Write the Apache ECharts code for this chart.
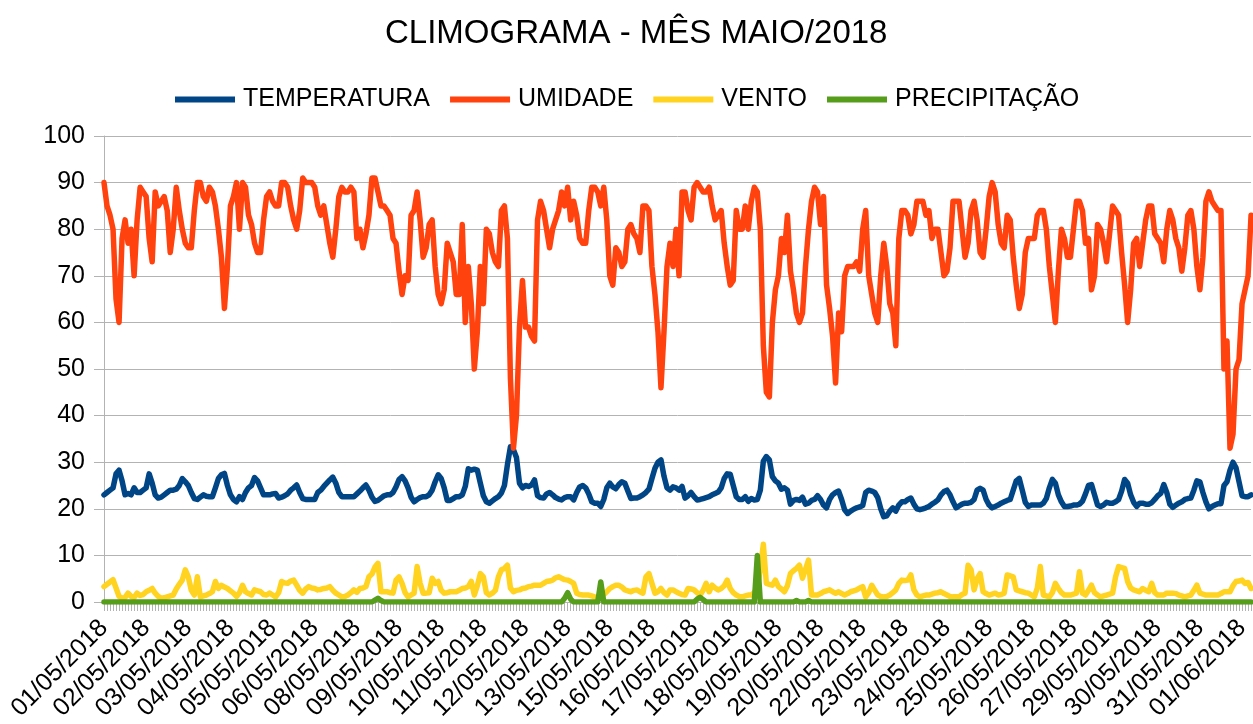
<!DOCTYPE html>
<html>
<head>
<meta charset="utf-8">
<title>Climograma</title>
<script src="https://cdn.jsdelivr.net/npm/echarts/dist/echarts.min.js"></script>
<style>
  html, body { margin: 0; padding: 0; background: #ffffff; }
  #chart { width: 1253px; height: 724px; }
</style>
</head>
<body>
<div id="chart"></div>
<script>
// leituras a cada 2 horas, a partir de 01/05/2018 00:00
var temperatura = [
  23, 23.5, 24, 24.5, 27.5, 28.3, 26, 23, 23.3, 23,
  24.5, 23.5, 23.5, 24, 24.5, 27.5, 25.5, 23, 22.3, 22.5,
  23, 23.5, 24, 24, 24.2, 25, 26.5, 25.8, 25, 23.5,
  22.2, 22, 22.5, 23, 22.7, 22.6, 22.6, 24.5, 26.5, 27.3,
  27.6, 25, 23, 22, 21.5, 22.6, 22, 23.5, 24.5, 25,
  26.7, 26, 24.5, 23, 23, 23, 23.2, 23.3, 22.3, 22.5,
  22.8, 23.2, 24, 24.5, 25.1, 23.5, 22.2, 22, 22, 22,
  22, 23.5, 24, 24.8, 25.5, 26.2, 26.8, 25.5, 23.5, 22.6,
  22.6, 22.6, 22.6, 22.6, 23.2, 23.8, 24.5, 25.1, 24, 22.5,
  21.6, 21.8, 22.3, 22.8, 23, 23, 23.5, 24.7, 26.3, 26.9,
  26, 24.5, 22.5, 21.5, 22, 22.4, 22.6, 22.6, 23, 24,
  25.8, 27.3, 26.5, 24.5, 21.8, 21.8, 22.2, 22.6, 22.6, 23,
  24.8, 28.6, 28.3, 28.5, 28.3, 25.5, 22.8, 21.5, 21.2, 21.7,
  22.2, 22.6, 23.4, 25, 29.5, 33.3, 32.7, 31, 25.5, 24.5,
  25, 24.8, 25.1, 26.2, 22.8, 22.4, 22.3, 23.2, 23.5, 23,
  22.4, 22.1, 21.9, 22.4, 22.6, 22.6, 21.9, 23.5, 24.7, 25,
  24.5, 23.2, 21.5, 21.2, 21.2, 20.5, 22, 24.5, 25.5, 24.7,
  24.3, 25.2, 25.8, 25.5, 23.8, 22.2, 22.3, 22.3, 22.6, 23,
  23.5, 24.2, 26.5, 28.7, 30, 30.5, 27, 24.5, 24, 24.7,
  24.5, 24, 24.8, 22.3, 22.8, 23.5, 22.6, 21.9, 22, 22.2,
  22.4, 22.6, 23, 23.3, 23.6, 24.5, 26.5, 27.5, 27.4, 25,
  22.6, 22, 22, 22.6, 21.6, 22.2, 21.9, 22, 24, 30.2,
  31.2, 30.5, 26.9, 26, 25.5, 24.2, 24.5, 24, 21, 21.8,
  22, 21.8, 22.5, 21, 21.2, 21.8, 22, 22.8, 22, 20.8,
  20.2, 22, 23, 23.5, 23.8, 22, 19.8, 19, 19.5, 19.9,
  20.2, 20.4, 20.7, 23.5, 24, 23.8, 23.5, 22.4, 20, 18.3,
  18.5, 19.5, 20.2, 19.5, 20.8, 21.5, 21.5, 22, 22.3, 21,
  20, 19.8, 20, 20.2, 20.5, 21, 21.4, 21.9, 23, 23.7,
  24, 23, 21.5, 20.2, 20.6, 21, 21.2, 21.2, 21.4, 22,
  24, 24.4, 24, 22, 20.8, 20.2, 20.5, 20.8, 21.2, 21.5,
  21.8, 22, 24, 26, 26.5, 24, 21.4, 20.5, 20.8, 20.8,
  20.8, 20.8, 21.2, 22.2, 24.5, 26.3, 25.5, 23, 21.5, 20.5,
  20.5, 20.6, 20.8, 20.8, 21, 21.6, 23.2, 25, 25.2, 23,
  20.8, 20.5, 20.8, 21.4, 21.2, 21.2, 21.5, 22, 23.8, 26.3,
  25.5, 23, 21.4, 20.5, 21.2, 21.2, 21, 21, 21.3, 22,
  22.8, 23.3, 25.2, 23.5, 21, 20.3, 20.8, 21.2, 21.5, 22,
  22.2, 22.3, 24, 26, 25.8, 23.5, 21.5, 20, 20.5, 20.8,
  21.1, 21.1, 25, 25.8, 28.3, 30, 28.8, 25.8, 22.8, 22.6,
  22.6, 23
];

var umidade = [
  90, 85, 83, 80, 65, 60, 78, 82, 77, 80,
  70, 82, 89, 88, 87, 78, 73, 88, 85, 86,
  87, 84, 75, 80, 89, 84, 80, 77, 76, 76,
  84, 90, 90, 87, 86, 89, 88, 85, 80, 74,
  63, 72, 85, 87, 90, 80, 90, 89, 83, 81,
  77, 75, 75, 82, 87, 88, 86, 85, 85, 90,
  90, 89, 85, 82, 80, 84, 91, 90, 90, 90,
  89, 85, 83, 85, 81, 77, 74, 80, 87, 89,
  88, 88, 89, 88, 78, 80, 76, 79, 83, 91,
  91, 88, 85, 85, 84, 83, 78, 77, 71, 66,
  70, 69, 83, 84, 88, 82, 74, 76, 81, 82,
  72, 66, 64, 67, 77, 75, 73, 66, 66, 81,
  60, 72, 64, 50, 58, 72, 64, 80, 79, 75,
  73, 72, 84, 85, 78, 48, 33, 40, 59, 69,
  59, 59, 57, 56, 82, 86, 84, 80, 76, 80,
  82, 84, 88, 85, 89, 82, 86, 83, 78, 77,
  77, 84, 89, 89, 88, 85, 89, 82, 70, 68,
  76, 75, 72, 73, 80, 81, 79, 78, 75, 85,
  85, 84, 72, 66, 58, 46, 58, 72, 77, 72,
  80, 70, 88, 88, 84, 82, 89, 90, 89, 88,
  88, 89, 85, 82, 83, 84, 77, 72, 68, 69,
  84, 80, 80, 85, 80, 86, 89, 88, 80, 55,
  45, 44, 60, 67, 70, 78, 75, 83, 71, 67,
  62, 60, 62, 72, 80, 86, 89, 88, 81, 87,
  68, 63, 57, 47, 62, 58, 70, 72, 72, 72,
  73, 71, 80, 84, 70, 66, 62, 60, 70, 77,
  72, 64, 62, 55, 78, 84, 84, 83, 79, 81,
  86, 86, 86, 83, 84, 78, 80, 80, 75, 70,
  71, 76, 86, 86, 86, 80, 74, 77, 84, 86,
  82, 75, 74, 80, 87, 90, 88, 81, 77, 76,
  83, 82, 74, 68, 63, 66, 75, 78, 78, 78,
  83, 84, 84, 80, 72, 66, 60, 71, 80, 78,
  74, 74, 80, 86, 86, 84, 77, 78, 67, 70,
  81, 80, 77, 73, 79, 85, 84, 83, 75, 68,
  60, 67, 77, 78, 72, 77, 82, 85, 85, 79,
  78, 77, 73, 80, 84, 82, 78, 76, 71, 76,
  83, 84, 80, 72, 67, 74, 86, 88, 86, 85,
  84, 84, 50, 56, 33, 36, 50, 52, 64, 67,
  70, 83
];

var vento = [
  3.3, 3.8, 4.3, 4.8, 3.0, 1.2, 0.8, 1.0, 1.9, 1.2,
  1.0, 1.9, 1.4, 1.6, 2.2, 2.5, 2.9, 1.9, 1.2, 0.8,
  0.9, 1.1, 1.3, 1.5, 2.8, 3.8, 4.7, 6.9, 5.4, 2.5,
  1.5, 5.4, 1.1, 1.3, 1.5, 1.8, 2.2, 4.4, 2.9, 3.6,
  3.2, 2.9, 2.4, 1.9, 1.2, 2.0, 3.6, 2.2, 1.8, 1.5,
  2.6, 2.4, 2.2, 1.6, 1.5, 1.9, 1.5, 1.1, 2.0, 4.4,
  4.1, 4.0, 4.5, 4.7, 3.6, 2.5, 1.9, 2.8, 3.3, 3.0,
  2.9, 2.6, 2.7, 2.9, 3.0, 3.3, 2.5, 1.9, 1.5, 1.1,
  1.2, 1.5, 2.0, 2.6, 2.1, 2.9, 3.0, 3.3, 5.4, 6.0,
  7.5, 8.3, 2.2, 2.2, 2.2, 2.0, 1.9, 4.7, 5.4, 4.0,
  2.0, 1.1, 1.5, 1.9, 7.6, 4.0, 1.9, 1.9, 2.0, 5.1,
  4.0, 4.4, 2.5, 1.9, 2.0, 2.2, 2.2, 2.2, 2.5, 2.9,
  3.0, 3.3, 4.4, 1.5, 3.5, 6.1, 5.4, 2.0, 1.5, 1.9,
  2.5, 5.4, 6.9, 7.2, 7.9, 3.0, 2.2, 2.5, 2.6, 2.9,
  3.0, 3.3, 3.4, 3.6, 3.6, 3.6, 4.0, 4.4, 4.5, 4.7,
  5.2, 5.4, 5.1, 4.8, 4.7, 4.4, 4.0, 1.9, 1.6, 1.5,
  1.5, 1.5, 1.3, 1.1, 1.0, 1.1, 1.6, 2.2, 2.9, 3.3,
  3.6, 3.6, 3.2, 2.6, 2.4, 2.2, 2.5, 2.6, 2.2, 1.9,
  5.4, 6.1, 4.0, 1.9, 2.2, 2.9, 2.0, 1.5, 2.6, 2.6,
  2.2, 1.9, 1.6, 1.5, 2.9, 2.8, 2.6, 2.0, 1.5, 2.5,
  4.0, 2.2, 3.6, 3.0, 2.6, 2.9, 3.5, 4.7, 2.9, 2.0,
  1.5, 1.2, 1.1, 1.3, 1.5, 1.5, 2.0, 3.3, 6.9, 12.4,
  4.0, 3.8, 3.6, 4.7, 3.3, 2.8, 2.2, 3.5, 6.1, 6.7,
  7.2, 7.9, 5.1, 7.0, 9.0, 1.5, 1.5, 1.5, 1.8, 2.2,
  2.4, 2.6, 2.2, 1.9, 2.2, 1.8, 1.5, 1.8, 2.2, 2.4,
  2.6, 3.0, 3.3, 1.1, 2.0, 3.6, 2.5, 1.5, 1.2, 1.1,
  1.2, 1.5, 2.0, 2.6, 4.0, 4.7, 4.6, 4.7, 5.8, 2.6,
  1.5, 1.1, 1.3, 1.5, 1.5, 1.7, 1.9, 2.0, 2.2, 1.8,
  1.5, 1.2, 1.1, 1.1, 1.1, 1.6, 1.9, 7.9, 6.9, 2.6,
  5.0, 6.1, 2.2, 1.8, 1.5, 1.7, 1.9, 1.5, 1.6, 1.9,
  5.8, 5.6, 5.4, 2.6, 2.4, 2.2, 2.0, 1.9, 1.5, 1.1,
  3.0, 7.6, 1.5, 1.3, 1.1, 2.0, 4.0, 2.9, 2.0, 1.5,
  1.5, 1.5, 1.7, 1.9, 6.5, 1.9, 1.5, 2.5, 3.6, 2.0,
  1.5, 1.1, 1.3, 1.5, 1.7, 1.9, 5.4, 7.6, 7.4, 7.2,
  4.4, 3.0, 2.6, 2.4, 2.2, 2.9, 2.5, 2.2, 4.0, 2.0,
  1.5, 1.5, 1.5, 1.9, 1.9, 1.9, 1.8, 1.5, 1.3, 1.1,
  1.3, 1.5, 2.5, 3.6, 1.9, 1.7, 1.5, 1.5, 1.5, 1.5,
  1.5, 1.8, 2.2, 2.2, 2.2, 3.5, 4.4, 4.5, 4.7, 4.0,
  4.2, 2.9
];

var precipitacao = [
  0, 0, 0, 0, 0, 0, 0, 0, 0, 0,
  0, 0, 0, 0, 0, 0, 0, 0, 0, 0,
  0, 0, 0, 0, 0, 0, 0, 0, 0, 0,
  0, 0, 0, 0, 0, 0, 0, 0, 0, 0,
  0, 0, 0, 0, 0, 0, 0, 0, 0, 0,
  0, 0, 0, 0, 0, 0, 0, 0, 0, 0,
  0, 0, 0, 0, 0, 0, 0, 0, 0, 0,
  0, 0, 0, 0, 0, 0, 0, 0, 0, 0,
  0, 0, 0, 0, 0, 0, 0, 0, 0, 0,
  0.4, 0.8, 0.3, 0, 0, 0, 0, 0, 0, 0,
  0, 0, 0, 0, 0, 0, 0, 0, 0, 0,
  0, 0, 0, 0, 0, 0, 0, 0, 0, 0,
  0, 0, 0, 0, 0, 0, 0, 0, 0, 0,
  0, 0, 0, 0, 0, 0, 0, 0, 0, 0,
  0, 0, 0, 0, 0, 0, 0, 0, 0, 0,
  0, 0, 0, 0.8, 2.0, 0.6, 0, 0, 0, 0,
  0, 0, 0, 0, 0, 4.3, 0, 0, 0, 0,
  0, 0, 0, 0, 0, 0, 0, 0, 0, 0,
  0, 0, 0, 0, 0, 0, 0, 0, 0, 0,
  0, 0, 0, 0, 0, 0, 0, 0.6, 1.0, 0.5,
  0, 0, 0, 0, 0, 0, 0, 0, 0, 0,
  0, 0, 0, 0, 0, 0, 0, 10, 0, 0,
  0, 0, 0, 0, 0, 0, 0, 0, 0, 0,
  0.3, 0, 0, 0, 0.3, 0, 0, 0, 0, 0,
  0, 0, 0, 0, 0, 0, 0, 0, 0, 0,
  0, 0, 0, 0, 0, 0, 0, 0, 0, 0,
  0, 0, 0, 0, 0, 0, 0, 0, 0, 0,
  0, 0, 0, 0, 0, 0, 0, 0, 0, 0,
  0, 0, 0, 0, 0, 0, 0, 0, 0, 0,
  0, 0, 0, 0, 0, 0, 0, 0, 0, 0,
  0, 0, 0, 0, 0, 0, 0, 0, 0, 0,
  0, 0, 0, 0, 0, 0, 0, 0, 0, 0,
  0, 0, 0, 0, 0, 0, 0, 0, 0, 0,
  0, 0, 0, 0, 0, 0, 0, 0, 0, 0,
  0, 0, 0, 0, 0, 0, 0, 0, 0, 0,
  0, 0, 0, 0, 0, 0, 0, 0, 0, 0,
  0, 0, 0, 0, 0, 0, 0, 0, 0, 0,
  0, 0, 0, 0, 0, 0, 0, 0, 0, 0,
  0, 0
];

var yTicks = [0, 10, 20, 30, 40, 50, 60, 70, 80, 90, 100];

// categorias: data de cada leitura (passo de 2 horas)
var categorias = [];
function pad(n) { return n < 10 ? "0" + n : "" + n; }
for (var i = 0; i < umidade.length; i++) {
  var d = new Date(2018, 4, 1 + Math.floor((i * 2) / 24));
  categorias.push(pad(d.getDate()) + "/" + pad(d.getMonth() + 1) + "/" + d.getFullYear());
}

var fonte = "Liberation Sans";
var cinza = "#b3b3b3";

function linha(nome, dados, cor) {
  return {
    name: nome,
    type: "line",
    data: dados,
    showSymbol: false,
    symbol: "none",
    lineStyle: { color: cor, width: 5.5, join: "round", cap: "round" },
    itemStyle: { color: cor },
  };
}

var myChart = echarts.init(document.getElementById("chart"));
myChart.setOption({
  animation: false,
  backgroundColor: "#ffffff",
  title: {
    text: "CLIMOGRAMA - MÊS MAIO/2018",
    left: 380,
    top: 12,
    textStyle: { fontFamily: fonte, fontSize: 33, fontWeight: "normal", color: "#000000" },
  },
  legend: {
    left: 170,
    top: 82,
    icon: "rect",
    itemWidth: 60,
    itemHeight: 6,
    itemGap: 20,
    textStyle: { fontFamily: fonte, fontSize: 25, color: "#000000", padding: [0, 0, 0, 3] },
    data: ["TEMPERATURA", "UMIDADE", "VENTO", "PRECIPITAÇÃO"],
  },
  grid: { left: 104, right: 0, top: 136, bottom: 122 },
  xAxis: {
    type: "category",
    data: categorias,
    boundaryGap: false,
    axisLine: { lineStyle: { color: cinza, width: 1 } },
    axisTick: { show: true, interval: 0, length: 9, lineStyle: { color: cinza } },
    axisLabel: { interval: 13, rotate: 45, margin: 22, fontFamily: fonte, fontSize: 25, color: "#000000" },
    splitLine: { show: false },
  },
  yAxis: {
    type: "value",
    min: yTicks[0],
    max: yTicks[yTicks.length - 1],
    interval: 10,
    axisLine: { show: true, lineStyle: { color: cinza, width: 1 } },
    axisTick: { show: true, length: 10, lineStyle: { color: cinza } },
    axisLabel: { margin: 19, fontFamily: fonte, fontSize: 25, color: "#000000" },
    splitLine: { lineStyle: { color: cinza, width: 1 } },
  },
  series: [
    linha("TEMPERATURA", temperatura, "#004586"),
    linha("UMIDADE", umidade, "#ff420e"),
    linha("VENTO", vento, "#ffd320"),
    linha("PRECIPITAÇÃO", precipitacao, "#579d1c"),
  ],
});
</script>
</body>
</html>
